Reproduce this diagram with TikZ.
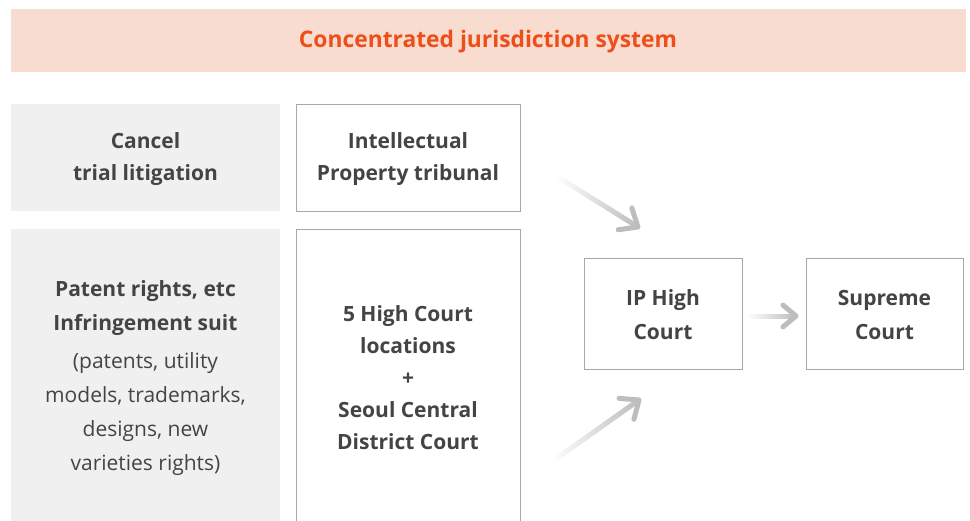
\documentclass[tikz,border=0pt]{standalone}
\usepackage{fontspec}
\setmainfont{Open Sans}
\usetikzlibrary{calc}
\definecolor{hdrfill}{HTML}{F8DCCF}
\definecolor{hdrtext}{HTML}{EE4E1A}
\definecolor{leftfill}{HTML}{F0F0F0}
\definecolor{boxline}{HTML}{A8A8A8}
\definecolor{txt}{HTML}{444444}
\definecolor{arrowgray}{HTML}{BDBDBD}
\tikzset{
  lbl/.style={font=\fontsize{21}{32}\selectfont\bfseries, text=txt, align=center},
  leftbox/.style={rectangle, fill=leftfill, draw=none, inner sep=0pt},
  whitebox/.style={rectangle, fill=white, draw=boxline, line width=1pt, inner sep=0pt},
}
\newcommand{\gradarrow}[3]{% start, end, head length
  \foreach \i in {0,...,29}{
    \pgfmathsetmacro\fa{\i/30}
    \pgfmathsetmacro\fb{(\i+1.2)/30}
    \pgfmathsetmacro\cc{int(3+97*\i/29)}
    \draw[line width=5pt, draw=arrowgray!\cc!white]
      ($(#1)!\fa!(#2)$) -- ($(#1)!\fb!(#2)$);
  }
  \draw[line width=5pt, draw=arrowgray, line cap=round, line join=round]
    ($(#2)!#3!40:(#1)$) -- (#2) -- ($(#2)!#3!-40:(#1)$);
}
\begin{document}
\begin{tikzpicture}[x=1pt,y=-1pt]
\clip (0,0) rectangle (970,520);
\fill[white] (0,0) rectangle (970,520);
% header
\node[rectangle, fill=hdrfill, minimum width=955pt, minimum height=63pt, inner sep=0pt] (hdr) at (488.5,40.5) {};
\node[font=\fontsize{22.8}{26}\selectfont\bfseries, text=hdrtext] (hdrt) at (488,42) {Concentrated jurisdiction system};
% left boxes
\node[leftbox, minimum width=269pt, minimum height=107pt] (l1) at (145.5,157.5) {};
\node[lbl] (l1t) at (145.5,159) {Cancel\\trial litigation};
\node[leftbox, minimum width=269pt, minimum height=300pt] (l2) at (145.5,379) {};
\node[text=txt, align=center, font=\fontsize{21}{34}\selectfont] (l2t) at (145.5,378)
  {\textbf{Patent rights, etc}\\\textbf{Infringement suit}\\[4pt]
   (patents, utility\\models, trademarks,\\designs, new\\varieties rights)};
% white boxes
\node[whitebox, minimum width=224pt, minimum height=107pt] (ipt) at (408,157.5) {};
\node[lbl] (iptt) at (408,159) {Intellectual\\Property tribunal};
\node[whitebox, minimum width=224pt, minimum height=300pt] (hc) at (408,379) {};
\node[lbl] (hct) at (408,378) {5 High Court\\locations\\+\\Seoul Central\\District Court};
\node[whitebox, minimum width=158pt, minimum height=111pt] (iph) at (663,313.5) {};
\node[lbl, font=\fontsize{21}{34}\selectfont\bfseries] (ipht) at (663,315) {IP High\\Court};
\node[whitebox, minimum width=157pt, minimum height=111pt] (sc) at (884.5,313.5) {};
\node[lbl, font=\fontsize{21}{34}\selectfont\bfseries] (sct) at (884.5,315) {Supreme\\Court};
% arrows
\coordinate (a1s) at (558,177);
\coordinate (a1e) at (638,227);
\coordinate (a2s) at (553,461);
\coordinate (a2e) at (639,400);
\coordinate (a3s) at (748,316);
\coordinate (a3e) at (796,316);
\gradarrow{a1s}{a1e}{20pt}
\gradarrow{a2s}{a2e}{20pt}
\gradarrow{a3s}{a3e}{17pt}
\end{tikzpicture}
\end{document}
